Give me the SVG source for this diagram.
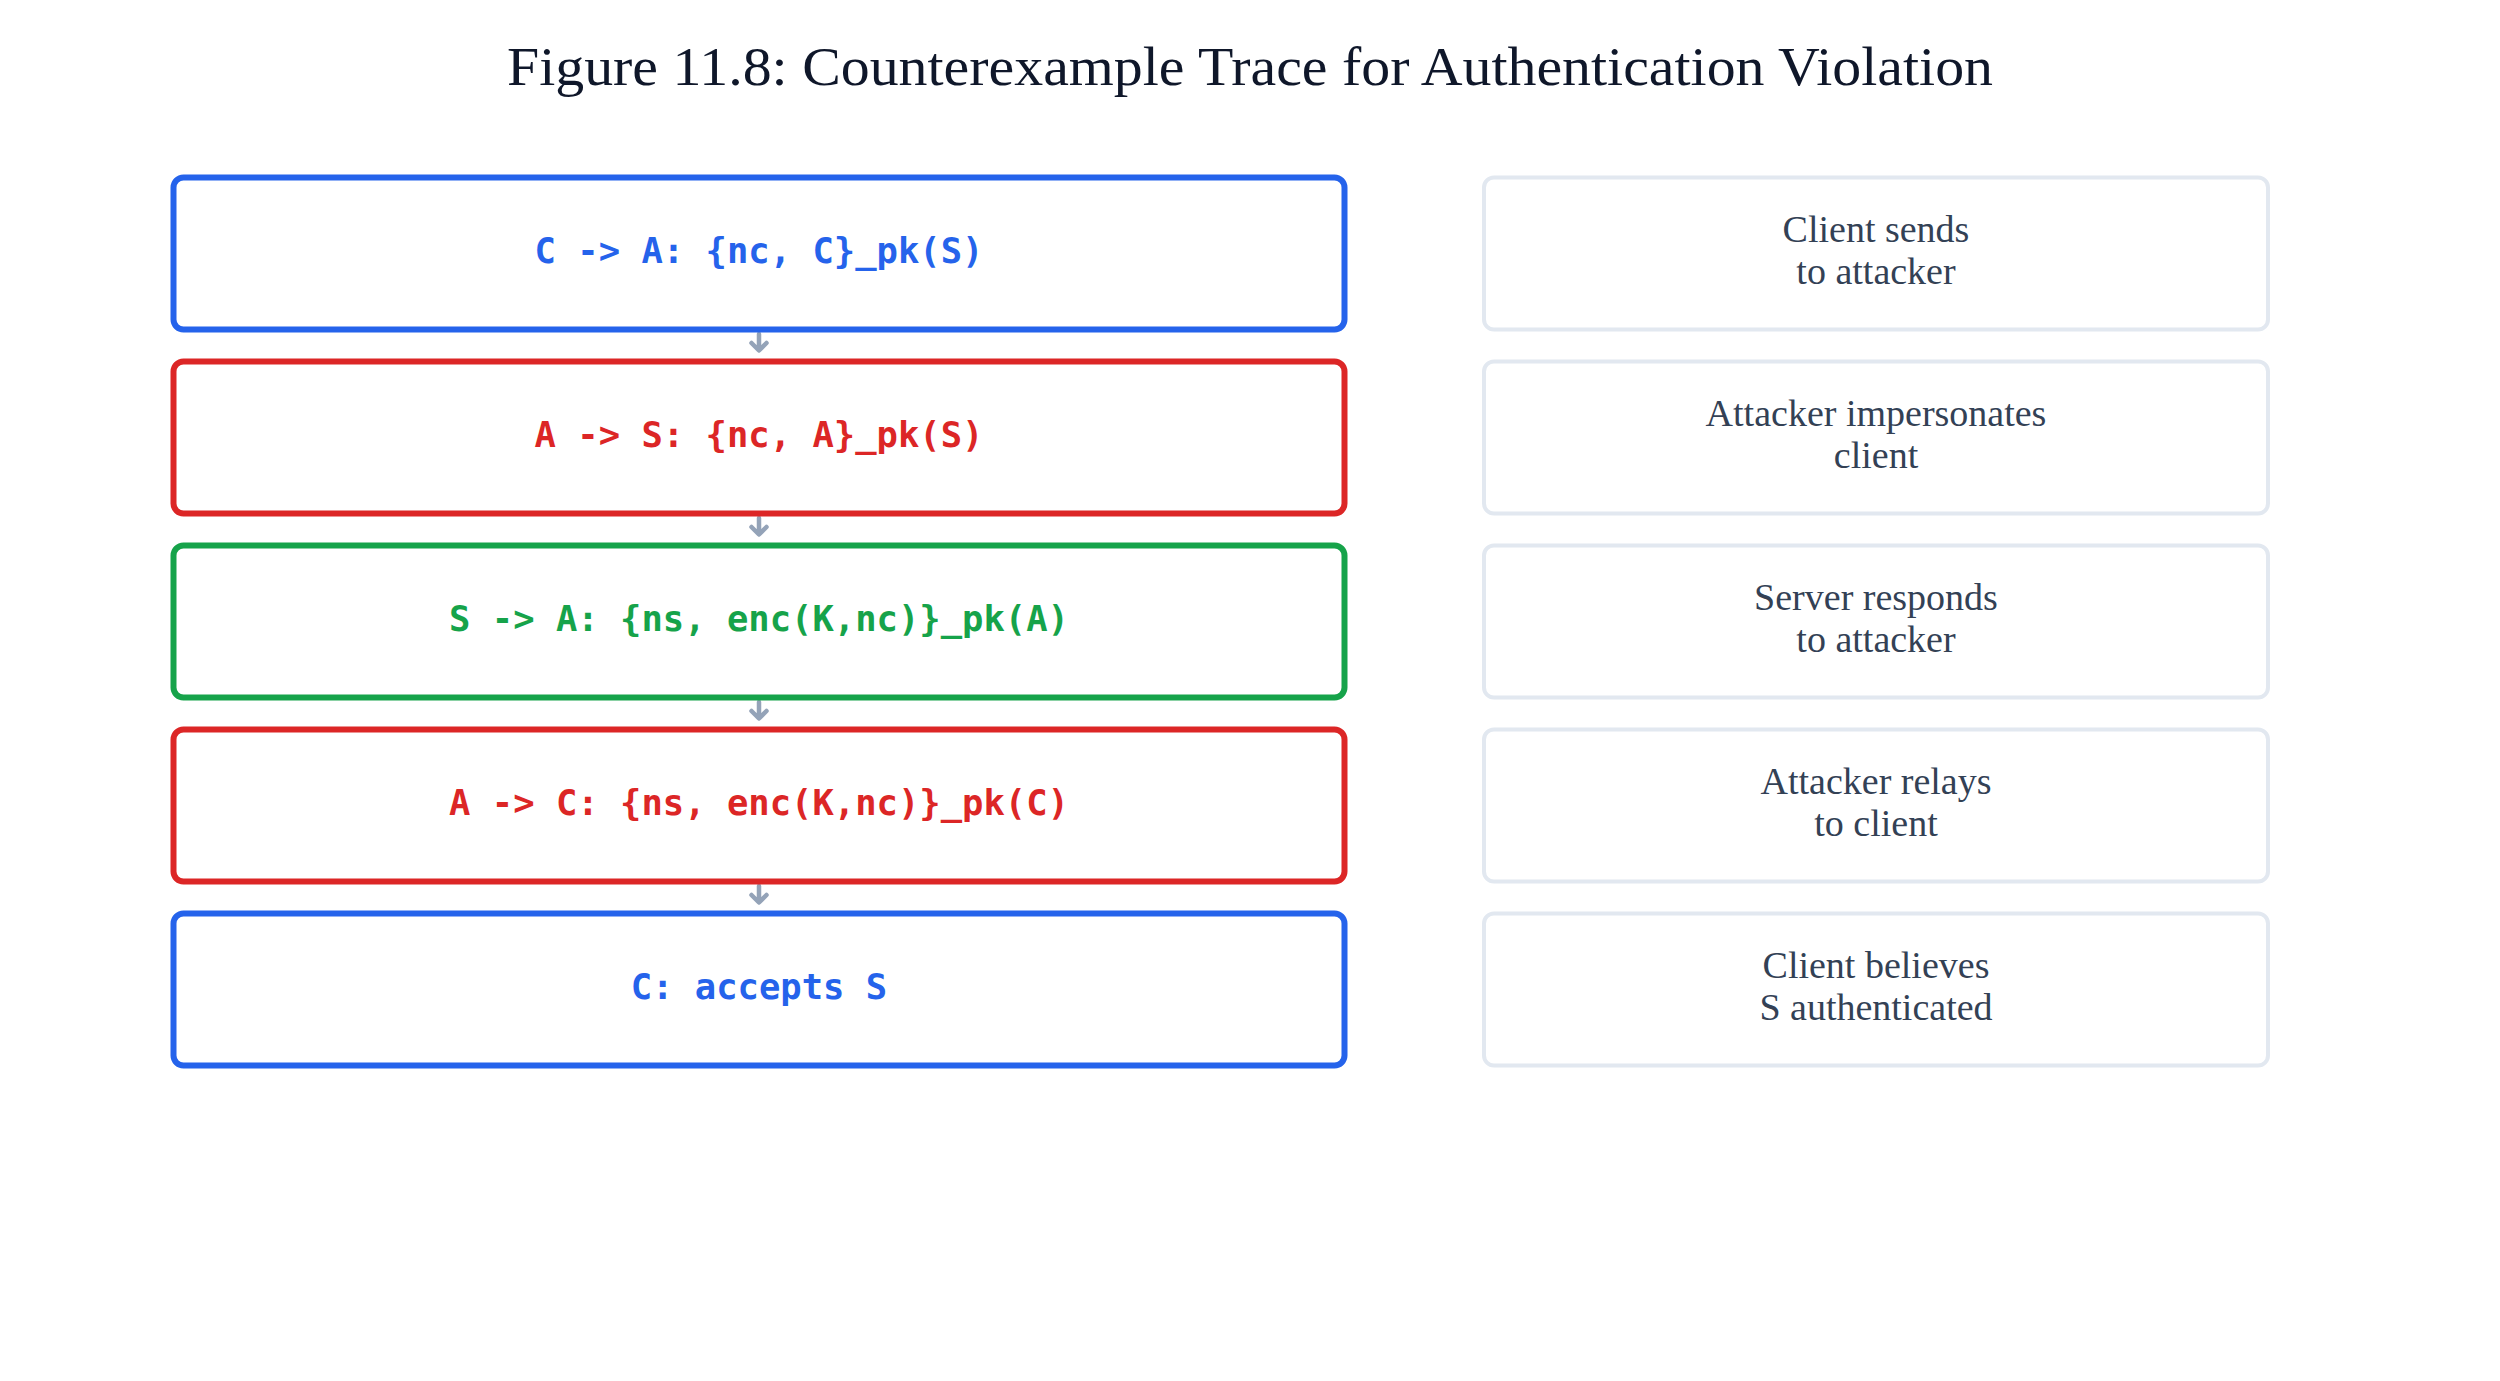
<svg xmlns="http://www.w3.org/2000/svg" width="2500" height="1381" viewBox="0 0 2500 1381">
<style>
.title{font-family:"Liberation Serif","DejaVu Serif",serif;font-size:54px;fill:#0f172a;text-anchor:middle}
.step{fill:#fff;stroke-width:6}
.note{fill:#fff;stroke:#e2e8f0;stroke-width:4}
.code{font-family:"DejaVu Sans Mono","Liberation Mono",monospace;font-weight:bold;font-size:35.5px;text-anchor:middle}
.desc{font-family:"Liberation Serif","DejaVu Serif",serif;font-size:38px;fill:#334155;text-anchor:middle}
.blue{stroke:#2563eb}.red{stroke:#dc2626}.green{stroke:#16a34a}
.tblue{fill:#2563eb}.tred{fill:#dc2626}.tgreen{fill:#16a34a}
.arr{stroke:#94a3b8;stroke-width:4.5;stroke-linecap:round;stroke-linejoin:round;fill:none}
</style>
<rect width="2500" height="1381" fill="#fff"/>
<text class="title" x="1250" y="85" textLength="1486" lengthAdjust="spacingAndGlyphs">Figure 11.8: Counterexample Trace for Authentication Violation</text>

<g id="connectors">
<path class="arr" d="M759 334V350M751.5 343L759 350.5L766.5 343"/>
<path class="arr" d="M759 518V534M751.5 527L759 534.5L766.5 527"/>
<path class="arr" d="M759 702V718M751.5 711L759 718.5L766.5 711"/>
<path class="arr" d="M759 886V902M751.5 895L759 902.5L766.5 895"/>
</g>

<g id="step1"><rect class="step blue" x="173.5" y="177.5" width="1171" height="152" rx="10"/><text class="code tblue" x="759" y="263">C -&gt; A: {nc, C}_pk(S)</text></g>
<g id="step2"><rect class="step red" x="173.5" y="361.5" width="1171" height="152" rx="10"/><text class="code tred" x="759" y="447">A -&gt; S: {nc, A}_pk(S)</text></g>
<g id="step3"><rect class="step green" x="173.5" y="545.5" width="1171" height="152" rx="10"/><text class="code tgreen" x="759" y="631">S -&gt; A: {ns, enc(K,nc)}_pk(A)</text></g>
<g id="step4"><rect class="step red" x="173.5" y="729.5" width="1171" height="152" rx="10"/><text class="code tred" x="759" y="815">A -&gt; C: {ns, enc(K,nc)}_pk(C)</text></g>
<g id="step5"><rect class="step blue" x="173.5" y="913.5" width="1171" height="152" rx="10"/><text class="code tblue" x="759" y="999">C: accepts S</text></g>

<g id="note1"><rect class="note" x="1484" y="177.5" width="784" height="152" rx="10"/><text class="desc" x="1876" y="242">Client sends</text><text class="desc" x="1876" y="284">to attacker</text></g>
<g id="note2"><rect class="note" x="1484" y="361.5" width="784" height="152" rx="10"/><text class="desc" x="1876" y="426">Attacker impersonates</text><text class="desc" x="1876" y="468">client</text></g>
<g id="note3"><rect class="note" x="1484" y="545.5" width="784" height="152" rx="10"/><text class="desc" x="1876" y="610">Server responds</text><text class="desc" x="1876" y="652">to attacker</text></g>
<g id="note4"><rect class="note" x="1484" y="729.5" width="784" height="152" rx="10"/><text class="desc" x="1876" y="794">Attacker relays</text><text class="desc" x="1876" y="836">to client</text></g>
<g id="note5"><rect class="note" x="1484" y="913.5" width="784" height="152" rx="10"/><text class="desc" x="1876" y="978">Client believes</text><text class="desc" x="1876" y="1020">S authenticated</text></g>
</svg>
